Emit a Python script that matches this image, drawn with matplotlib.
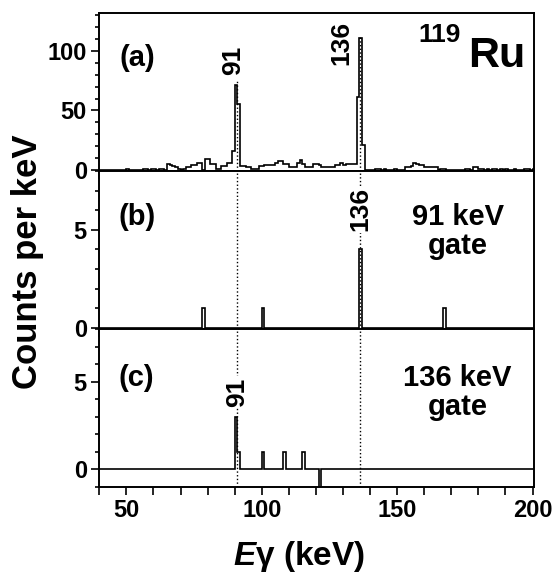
import matplotlib
matplotlib.use("Agg")
import matplotlib.pyplot as plt
import numpy as np
from matplotlib.ticker import MultipleLocator

plt.rcParams["font.family"] = "Liberation Sans"
plt.rcParams["font.weight"] = "bold"
plt.rcParams["mathtext.fontset"] = "custom"
plt.rcParams["mathtext.it"] = "Liberation Sans:italic:bold"
plt.rcParams["mathtext.rm"] = "Liberation Sans"

# 1 keV bins from 40 to 202 keV
edges = np.arange(40, 203, 1)

# (a) total projection, counts per keV, starting at 40 keV
spec_a = [
    0, 0, 0, 0, 0, 0, 0, 0, 0, 0,          # 40-49
    1, 0, 0, 0, 0, 0, 1, 1, 0, 1,          # 50-59
    1, 0, 1, 1, 0, 5, 4, 3, 2, 1,          # 60-69
    0, 1, 2, 2, 4, 4, 6, 6, 0, 9,          # 70-79
    9, 5, 5, 1, 1, 3, 3, 6, 6, 16,         # 80-89
    71, 55, 3, 3, 2, 2, 1, 1, 1, 3,        # 90-99
    3, 4, 4, 4, 4, 6, 7, 7, 5, 5,          # 100-109
    2, 2, 2, 6, 8, 5, 2, 2, 2, 5,          # 110-119
    5, 4, 2, 2, 2, 2, 2, 4, 4, 6,          # 120-129
    4, 5, 5, 5, 5, 61, 111, 21, 0, 0,      # 130-139
    0, 0, 1, 1, 0, 1, 0, 0, 0, 1,          # 140-149
    0, 0, 0, 2, 2, 3, 6, 5, 4, 4,          # 150-159
    2, 2, 2, 2, 2, 0, 1, 1, 0, 0,          # 160-169
    0, 0, 0, 0, 0, 1, 1, 0, 2, 2,          # 170-179
    1, 1, 0, 1, 0, 1, 1, 0, 1, 0,          # 180-189
    1, 0, 0, 1, 0, 0, 0, 1, 1, 0,          # 190-199
    1, 0,                                  # 200-201
]

# (b) gate on 91 keV: energy of bin start -> counts
gate91_e = [78, 100, 136, 167]
gate91_c = [1, 1, 4, 1]

# (c) gate on 136 keV
gate136_e = [90, 91, 100, 108, 115, 121]
gate136_c = [3, 1, 1, 1, 1, -1]

lines_e = [90.8, 136.4]


def gated(e_list, c_list):
    vals = np.zeros(len(edges) - 1)
    for e, c in zip(e_list, c_list):
        vals[e - 40] = c
    return vals


fig = plt.figure(figsize=(5.54, 5.79), dpi=100)
h = 0.2729
axa = fig.add_axes([0.1792, 0.7046, 0.785, h])
axb = fig.add_axes([0.1792, 0.4317, 0.785, h])
axc = fig.add_axes([0.1792, 0.1589, 0.785, h])

axa.stairs(spec_a, edges, color="black", lw=1.2)
axb.stairs(gated(gate91_e, gate91_c), edges, color="black", lw=1.2)
axc.stairs(gated(gate136_e, gate136_c), edges, color="black", lw=1.2)

axa.set_ylim(-1.1, 132)
axb.set_ylim(-0.07, 8)
axc.set_ylim(-1, 8)

for ax in (axa, axb, axc):
    ax.set_xlim(40, 200.6)
    ax.xaxis.set_major_locator(MultipleLocator(50))
    ax.xaxis.set_minor_locator(MultipleLocator(10))
    ax.tick_params(axis="x", which="both", direction="out", length=6, width=1.2)
    ax.tick_params(axis="y", which="major", direction="out", length=6, width=1.2)
    ax.tick_params(axis="y", which="minor", direction="out", length=3, width=1.2)
    ax.tick_params(labelsize=17, pad=3)
    for s in ax.spines.values():
        s.set_linewidth(1.4)

axa.yaxis.set_major_locator(MultipleLocator(50))
axa.yaxis.set_minor_locator(MultipleLocator(10))
for ax in (axb, axc):
    ax.yaxis.set_major_locator(MultipleLocator(5))
    ax.yaxis.set_minor_locator(MultipleLocator(1))
axa.tick_params(labelbottom=False)
axb.tick_params(labelbottom=False)

# dotted guide lines
axa.plot([lines_e[0]] * 2, [-1.1, 76], ls=":", color="black", lw=1)
axa.plot([lines_e[1]] * 2, [-1.1, 112], ls=":", color="black", lw=1)
for ax in (axb, axc):
    for e in lines_e:
        ax.axvline(e, ls=":", color="black", lw=1, zorder=1)

box = dict(facecolor="white", edgecolor="none", pad=1)
axa.text(89.3, 92, "91", rotation=90, ha="center", va="center", fontsize=19)
axa.text(129.4, 107, "136", rotation=90, ha="center", va="center", fontsize=19)
axb.text(136.4, 6.05, "136", rotation=90, ha="center", va="center", fontsize=19, bbox=box)
axc.text(90.8, 4.4, "91", rotation=90, ha="center", va="center", fontsize=19, bbox=box)

axa.text(0.087, 0.714, "(a)", transform=axa.transAxes, ha="center", va="center", fontsize=21)
axb.text(0.088, 0.707, "(b)", transform=axb.transAxes, ha="center", va="center", fontsize=21)
axc.text(0.086, 0.69, "(c)", transform=axc.transAxes, ha="center", va="center", fontsize=21)
axb.text(0.824, 0.62, "91 keV\ngate", transform=axb.transAxes, ha="center", va="center",
         fontsize=21, linespacing=1.05)
axc.text(0.824, 0.60, "136 keV\ngate", transform=axc.transAxes, ha="center", va="center",
         fontsize=21, linespacing=1.05)
axa.text(0.914, 0.726, "Ru", transform=axa.transAxes, ha="center", va="center", fontsize=31)
axa.text(0.783, 0.862, "119", transform=axa.transAxes, ha="center", va="center", fontsize=19)

fig.text(0.05, 1 - 262 / 579, "Counts per keV", rotation=90, ha="center", va="center", fontsize=25)
fig.text(0.54, 1 - 556 / 579, r"$\mathit{E}\mathrm{\gamma}$ (keV)", ha="center", va="center",
         fontsize=24)

fig.savefig("out.png", dpi=100)
